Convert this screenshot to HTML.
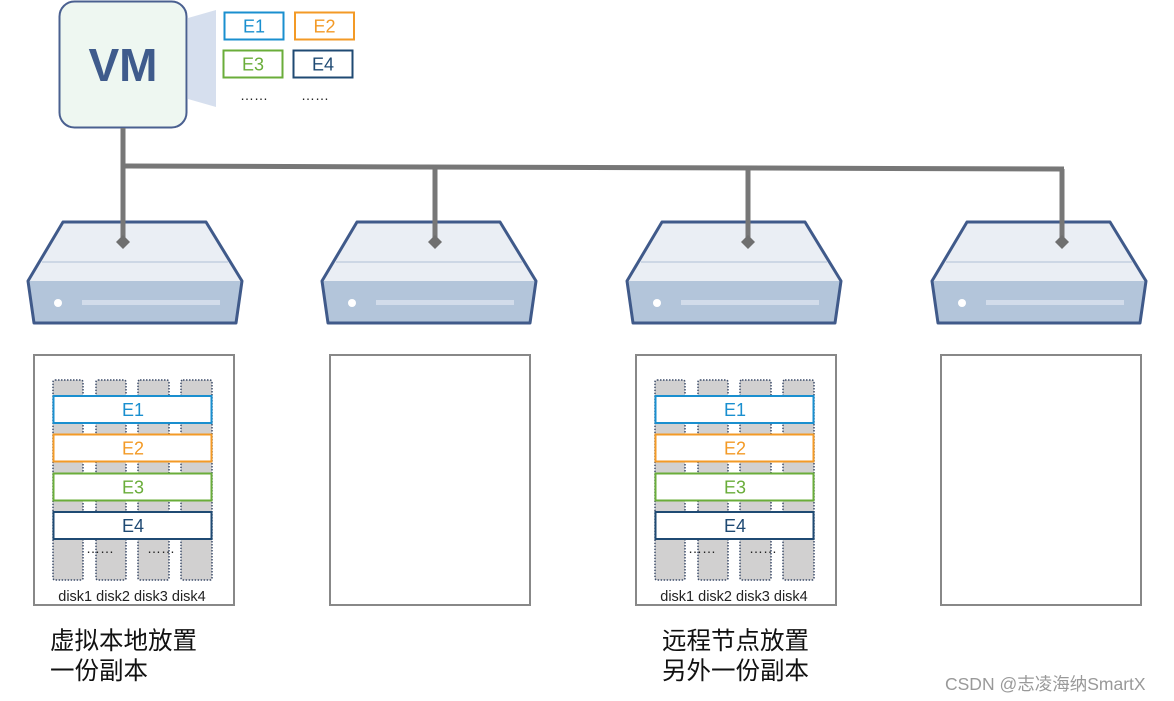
<!DOCTYPE html>
<html><head><meta charset="utf-8"><style>
html,body{margin:0;padding:0;background:#fff;}
svg{display:block;}
text{font-family:"Liberation Sans","Noto Sans CJK SC",sans-serif;}
</style></head><body>
<svg width="1174" height="701" viewBox="0 0 1174 701" xmlns="http://www.w3.org/2000/svg">
<defs>
<g id="srv">
  <path d="M63,222 L206,222 L242,281 L28,281 Z" fill="#eaeef4"/>
  <line x1="42" y1="262" x2="228" y2="262" stroke="#c3cfe0" stroke-width="1.5"/>
  <path d="M28,281 L242,281 L236,323 L34,323 Z" fill="#b3c5da"/>
  <path d="M63,222 L206,222 L242,281 L236,323 L34,323 L28,281 Z" fill="none" stroke="#405a8a" stroke-width="3" stroke-linejoin="round"/>
  <circle cx="58" cy="303" r="4" fill="#fff"/>
  <rect x="82" y="300" width="138" height="5" fill="#d2dcea"/>
</g>
<g id="stor">
  <rect x="34" y="355" width="200" height="250" fill="#fff" stroke="#888" stroke-width="2"/>
  <g fill="#d1d0d0" stroke="#3e4d6a" stroke-width="1.5" stroke-dasharray="1.5,1.5">
    <rect x="53" y="380" width="30" height="200" rx="2"/>
    <rect x="96" y="380" width="30" height="200" rx="2"/>
    <rect x="138" y="380" width="31" height="200" rx="2"/>
    <rect x="181" y="380" width="31" height="200" rx="2"/>
  </g>
  <rect x="53.5" y="396" width="158" height="27" fill="#fff" stroke="#1a8fcf" stroke-width="2"/>
  <text x="133" y="416" text-anchor="middle" font-size="18" fill="#1a8fcf">E1</text>
  <rect x="53.5" y="434.5" width="158" height="27" fill="#fff" stroke="#f39a26" stroke-width="2"/>
  <text x="133" y="454.5" text-anchor="middle" font-size="18" fill="#f39a26">E2</text>
  <rect x="53.5" y="473.5" width="158" height="27" fill="#fff" stroke="#6aad3a" stroke-width="2"/>
  <text x="133" y="493.5" text-anchor="middle" font-size="18" fill="#6aad3a">E3</text>
  <rect x="53.5" y="512" width="158" height="27" fill="#fff" stroke="#1f4a73" stroke-width="2"/>
  <text x="133" y="532" text-anchor="middle" font-size="18" fill="#1f4a73">E4</text>
  <text x="86" y="553" font-size="14" fill="#222">……</text>
  <text x="147" y="553" font-size="14" fill="#222">……</text>
  <text x="132" y="601" text-anchor="middle" font-size="14.5" fill="#222">disk1 disk2 disk3 disk4</text>
</g>
</defs>

<path d="M188,18 L216,10 L216,107 L188,99 Z" fill="#d6dfee"/>
<rect x="59.5" y="1.5" width="127" height="126" rx="15" fill="#eef7f1" stroke="#4a6090" stroke-width="2"/>
<text x="123" y="81" text-anchor="middle" font-size="46" font-weight="bold" fill="#3f5b8c">VM</text>

<rect x="224.5" y="12.5" width="59" height="27" fill="#fff" stroke="#1a8fcf" stroke-width="2"/>
<text x="254" y="32.5" text-anchor="middle" font-size="18" fill="#1a8fcf">E1</text>
<rect x="295" y="12.5" width="59" height="27" fill="#fff" stroke="#f39a26" stroke-width="2"/>
<text x="324.5" y="32.5" text-anchor="middle" font-size="18" fill="#f39a26">E2</text>
<rect x="223.5" y="50.5" width="59" height="27" fill="#fff" stroke="#6aad3a" stroke-width="2"/>
<text x="253" y="70.5" text-anchor="middle" font-size="18" fill="#6aad3a">E3</text>
<rect x="293.5" y="50.5" width="59" height="27" fill="#fff" stroke="#1f4a73" stroke-width="2"/>
<text x="323" y="70.5" text-anchor="middle" font-size="18" fill="#1f4a73">E4</text>
<text x="240" y="100" font-size="14" fill="#222">……</text>
<text x="301" y="100" font-size="14" fill="#222">……</text>

<use href="#srv"/>
<use href="#srv" x="294"/>
<use href="#srv" x="599"/>
<use href="#srv" x="904"/>

<g stroke="#777" stroke-width="5" fill="none">
  <polyline points="123,128 123,242"/>
  <polyline points="123,166 1064,169"/>
  <line x1="435" y1="167" x2="435" y2="242"/>
  <line x1="748" y1="168" x2="748" y2="242"/>
  <line x1="1062" y1="169" x2="1062" y2="242"/>
</g>
<g fill="#6f6f6f">
  <path d="M123,235 L130,242 L123,249 L116,242 Z"/>
  <path d="M435,235 L442,242 L435,249 L428,242 Z"/>
  <path d="M748,235 L755,242 L748,249 L741,242 Z"/>
  <path d="M1062,235 L1069,242 L1062,249 L1055,242 Z"/>
</g>

<use href="#stor"/>
<rect x="330" y="355" width="200" height="250" fill="#fff" stroke="#888" stroke-width="2"/>
<use href="#stor" x="602"/>
<rect x="941" y="355" width="200" height="250" fill="#fff" stroke="#888" stroke-width="2"/>

<text x="50" y="649" font-size="24.5" fill="#111">虚拟本地放置</text>
<text x="50" y="679" font-size="24.5" fill="#111">一份副本</text>
<text x="662" y="649" font-size="24.5" fill="#111">远程节点放置</text>
<text x="662" y="679" font-size="24.5" fill="#111">另外一份副本</text>
<text x="945" y="690" font-size="17.5" fill="#999">CSDN @志凌海纳SmartX</text>
</svg>
</body></html>
